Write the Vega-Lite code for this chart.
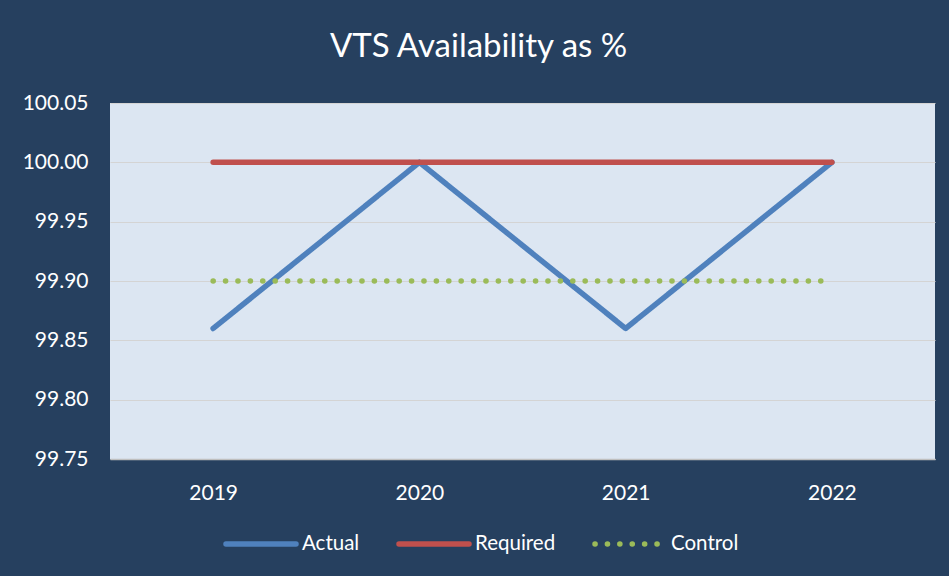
{
  "$schema": "https://vega.github.io/schema/vega-lite/v6.json",
  "width": 825,
  "height": 356,
  "autosize": {"type": "none"},
  "padding": {"left": 110, "top": 103, "right": 14, "bottom": 117},
  "background": "#26405F",
  "title": {
    "text": "VTS Availability as %",
    "color": "#FFFFFF",
    "font": "Lato",
    "fontSize": 33,
    "fontWeight": "normal",
    "anchor": "middle",
    "frame": "bounds",
    "offset": 28
  },
  "data": {
    "values": [
      {"year": "2019", "series": "Actual", "value": 99.86},
      {"year": "2020", "series": "Actual", "value": 100.00},
      {"year": "2021", "series": "Actual", "value": 99.86},
      {"year": "2022", "series": "Actual", "value": 100.00},
      {"year": "2019", "series": "Required", "value": 100.00},
      {"year": "2020", "series": "Required", "value": 100.00},
      {"year": "2021", "series": "Required", "value": 100.00},
      {"year": "2022", "series": "Required", "value": 100.00},
      {"year": "2019", "series": "Control", "value": 99.90},
      {"year": "2020", "series": "Control", "value": 99.90},
      {"year": "2021", "series": "Control", "value": 99.90},
      {"year": "2022", "series": "Control", "value": 99.90}
    ]
  },
  "mark": {"type": "line", "strokeWidth": 5.5, "strokeCap": "round", "strokeJoin": "round"},
  "encoding": {
    "x": {
      "field": "year",
      "type": "ordinal",
      "scale": {"type": "point", "padding": 0.5},
      "axis": {
        "title": null,
        "labelAngle": 0,
        "labelColor": "#FFFFFF",
        "labelFont": "Lato",
        "labelFontSize": 21,
        "labelPadding": 23,
        "ticks": false,
        "domain": true,
        "domainColor": "#BFBFBF",
        "domainWidth": 1.5,
        "grid": false
      }
    },
    "y": {
      "field": "value",
      "type": "quantitative",
      "scale": {"domain": [99.75, 100.05], "zero": false, "nice": false},
      "axis": {
        "title": null,
        "values": [99.75, 99.8, 99.85, 99.9, 99.95, 100.0, 100.05],
        "format": ".2f",
        "labelColor": "#FFFFFF",
        "labelFont": "Lato",
        "labelFontSize": 21,
        "labelPadding": 22,
        "ticks": false,
        "domain": false,
        "grid": true,
        "gridColor": "#D4D4D4",
        "gridWidth": 1.2
      }
    },
    "color": {
      "field": "series",
      "type": "nominal",
      "scale": {"domain": ["Actual", "Required", "Control"], "range": ["#4F81BD", "#C0504D", "#9BBB59"]},
      "legend": {
        "title": null,
        "orient": "none",
        "direction": "horizontal",
        "legendX": 113,
        "legendY": 403,
        "symbolType": "stroke",
        "symbolSize": 4900,
        "symbolStrokeWidth": 5.5,
        "labelColor": "#FFFFFF",
        "labelFont": "Lato",
        "labelFontSize": 20.5,
        "labelOffset": 3,
        "columnPadding": 28,
        "encode": {"symbols": {"update": {"strokeCap": {"value": "round"}}}}
      }
    },
    "strokeDash": {
      "field": "series",
      "type": "nominal",
      "scale": {"domain": ["Actual", "Required", "Control"], "range": [[1, 0], [1, 0], [0.1, 12.3]]},
      "legend": {
        "title": null,
        "orient": "none",
        "direction": "horizontal",
        "legendX": 113,
        "legendY": 403,
        "symbolType": "stroke",
        "symbolSize": 4900,
        "symbolStrokeWidth": 5.5,
        "labelColor": "#FFFFFF",
        "labelFont": "Lato",
        "labelFontSize": 20.5,
        "labelOffset": 3,
        "columnPadding": 28,
        "encode": {"symbols": {"update": {"strokeCap": {"value": "round"}}}}
      }
    }
  },
  "config": {
    "view": {"fill": "#DCE6F2", "stroke": null}
  }
}
